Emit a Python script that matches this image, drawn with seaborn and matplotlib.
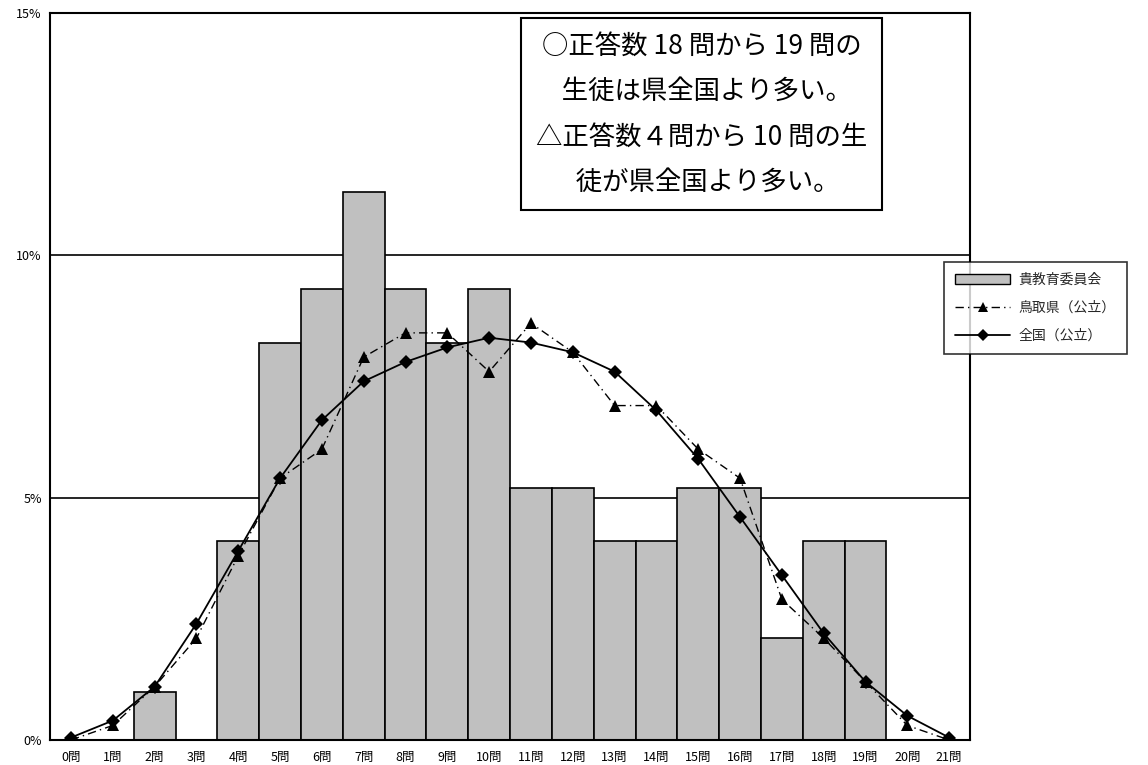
import matplotlib
matplotlib.use("Agg")
import matplotlib.pyplot as plt
from matplotlib.patches import Patch
from matplotlib.lines import Line2D
import seaborn as sns
import pandas as pd

sns.set_theme(style="white")
plt.rcParams['font.family'] = ['Noto Sans CJK JP', 'DejaVu Sans']

# Number of correct answers (0..21)
categories = [f"{i}問" for i in range(22)]

# Share of students per score (%)
board_values = [0, 0, 1.0, 0, 4.1, 8.2, 9.3, 11.3, 9.3, 8.2, 9.3,
                5.2, 5.2, 4.1, 4.1, 5.2, 5.2, 2.1, 4.1, 4.1, 0, 0]
tottori_values = [0.0, 0.3, 1.1, 2.1, 3.8, 5.4, 6.0, 7.9, 8.4, 8.4, 7.6,
                  8.6, 8.0, 6.9, 6.9, 6.0, 5.4, 2.9, 2.1, 1.2, 0.3, 0.0]
national_values = [0.05, 0.4, 1.1, 2.4, 3.9, 5.4, 6.6, 7.4, 7.8, 8.1, 8.3,
                   8.2, 8.0, 7.6, 6.8, 5.8, 4.6, 3.4, 2.2, 1.2, 0.5, 0.05]

series_names = ["貴教育委員会", "鳥取県（公立）", "全国（公立）"]
y_ticks = [0, 5, 10, 15]
y_tick_labels = ["0%", "5%", "10%", "15%"]

note_text = ("○正答数 18 問から 19 問の\n"
             "  生徒は県全国より多い。\n"
             "△正答数４問から 10 問の生\n"
             "  徒が県全国より多い。")

df = pd.DataFrame({
    "score": categories,
    "pos": range(len(categories)),
    "board": board_values,
    "tottori": tottori_values,
    "national": national_values,
})

fig = plt.figure(figsize=(11.48, 7.65), dpi=100)
ax = fig.add_axes([0.0436, 0.0327, 0.8014, 0.9503])

# Horizontal reference lines behind the bars
for v in y_ticks[1:]:
    ax.axhline(v, color="black", lw=1.2, zorder=0)

sns.barplot(data=df, x="score", y="board", color="#c0c0c0", saturation=1,
            width=1.0, edgecolor="black", linewidth=1.2, ax=ax, zorder=2)

dashdot = (0, (6, 3, 1, 3))
ax.plot(df["pos"], df["tottori"], color="black", lw=1.0,
        linestyle=dashdot, marker="^", markersize=8,
        markeredgewidth=0, zorder=3)
ax.plot(df["pos"], df["national"], color="black", lw=1.3,
        linestyle="-", marker="D", markersize=7, markeredgewidth=0, zorder=4)

ax.set_xlim(-0.5, 21.5)
ax.set_ylim(0, 15)
ax.set_yticks(y_ticks)
ax.set_yticklabels(y_tick_labels, fontsize=9)
ax.set_xticks(range(len(categories)))
ax.set_xticklabels(categories, fontsize=9)
ax.tick_params(axis="y", length=0, pad=6, colors="black")
ax.tick_params(axis="x", length=0, pad=8, colors="black")
ax.set_xlabel("")
ax.set_ylabel("")
for s in ax.spines.values():
    s.set_visible(True)
    s.set_color("black")
    s.set_linewidth(1.5)

# Annotation box
ax.text(0.611, 0.957, note_text, transform=fig.transFigure, ha="center",
        va="top", fontsize=19, linespacing=1.87, color="black",
        bbox=dict(boxstyle="square,pad=0.55", facecolor="white",
                  edgecolor="black", linewidth=1.5), zorder=6)

handles = [
    Patch(facecolor="#c0c0c0", edgecolor="black", linewidth=1.0),
    Line2D([], [], color="black", lw=1.0, linestyle=dashdot,
           marker="^", markersize=7, markeredgewidth=0),
    Line2D([], [], color="black", lw=1.3, marker="D", markersize=6,
           markeredgewidth=0),
]
leg = fig.legend(handles, series_names, loc="upper left",
                 bbox_to_anchor=(0.822, 0.658), fontsize=10, frameon=True,
                 fancybox=False, edgecolor="black", handlelength=4.0,
                 labelspacing=1.0, borderpad=0.8, handletextpad=0.6,
                 borderaxespad=0)
leg.get_frame().set_linewidth(1.2)

fig.savefig("out.png", dpi=100, facecolor="white")
